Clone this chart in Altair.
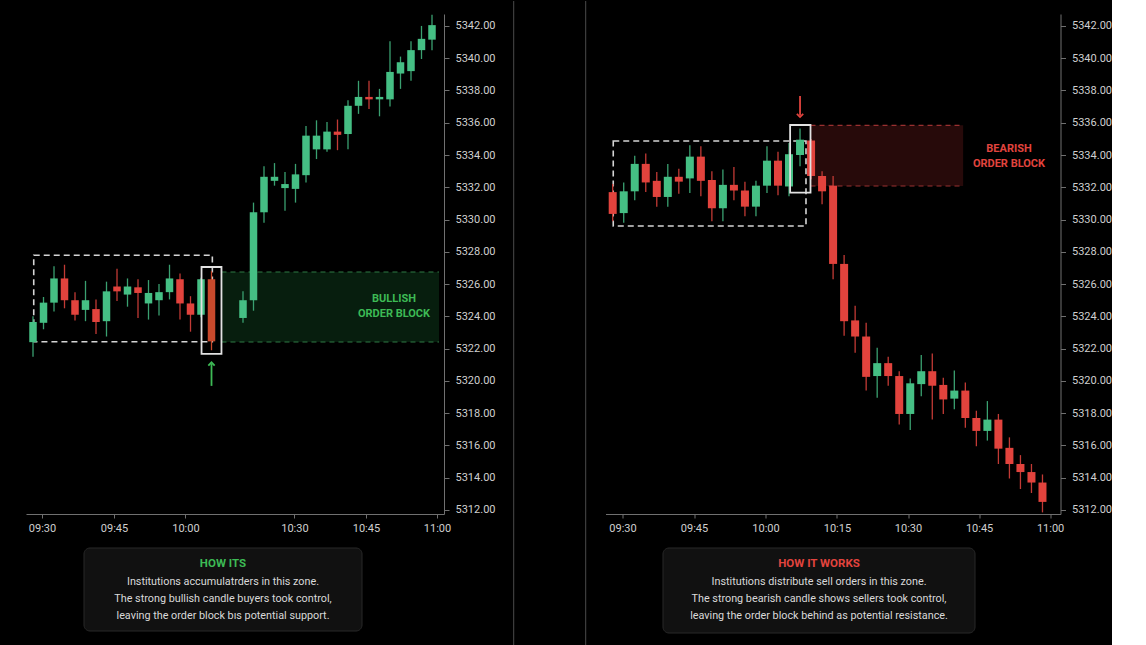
import altair as alt
import pandas as pd

FONT = "Roboto"
BG = "#000000"
GREEN = "#45bf84"
RED = "#e2433d"
OB_RED = "#c9492c"
GREEN_WICK = "#3aa070"
RED_WICK = "#c23a35"
AXIS_GRAY = "#707070"
LABEL_GRAY = "#cfcfcf"
SEP_GRAY = "#4a4a4a"

Y_DOMAIN = [5311.75, 5342.74]
Y_TICKS = [5312.0, 5314.0, 5316.0, 5318.0, 5320.0, 5322.0, 5324.0, 5326.0,
           5328.0, 5330.0, 5332.0, 5334.0, 5336.0, 5338.0, 5340.0, 5342.0]

# ---------------- Left panel: bullish order block ----------------
L_K = list(range(0, 18)) + list(range(20, 39))
L_OPEN = [5322.4, 5323.6, 5324.85, 5326.35, 5325.0, 5324.4, 5324.45, 5323.7, 5325.85,
          5325.35, 5325.8, 5324.8, 5325.0, 5325.5, 5326.3, 5324.8, 5324.1, 5326.3,
          5323.9, 5325.0, 5330.45, 5332.4, 5331.95, 5331.9, 5332.75, 5334.35, 5334.35,
          5335.45, 5335.3, 5337.05, 5337.6, 5337.45, 5337.45, 5339.05, 5339.2, 5340.5,
          5341.15]
L_HIGH = [5324.0, 5325.2, 5327.1, 5327.2, 5325.5, 5326.2, 5325.05, 5326.15, 5326.95,
          5326.35, 5326.3, 5326.25, 5326.0, 5327.2, 5326.65, 5325.25, 5326.4, 5326.8,
          5325.55, 5331.05, 5333.3, 5333.5, 5332.95, 5333.45, 5335.8, 5336.15, 5336.05,
          5336.2, 5337.4, 5338.6, 5338.6, 5338.1, 5341.05, 5340.1, 5341.05, 5342.0,
          5342.7]
L_LOW = [5321.5, 5323.2, 5324.3, 5324.5, 5323.75, 5323.7, 5322.9, 5322.75, 5324.95,
         5324.6, 5323.9, 5323.8, 5324.05, 5325.05, 5323.8, 5323.05, 5323.95, 5321.9,
         5323.6, 5324.35, 5329.8, 5332.1, 5330.55, 5331.05, 5332.3, 5333.75, 5334.2,
         5334.3, 5334.35, 5336.55, 5336.85, 5336.4, 5337.0, 5338.1, 5338.6, 5339.95,
         5340.5]
L_CLOSE = [5323.65, 5324.85, 5326.35, 5325.0, 5324.1, 5325.0, 5323.65, 5325.55, 5325.55,
           5325.85, 5325.45, 5325.45, 5325.5, 5326.35, 5324.8, 5324.1, 5326.3, 5322.45,
           5325.0, 5330.45, 5332.65, 5332.65, 5332.2, 5332.8, 5335.2, 5335.2, 5335.45,
           5335.25, 5337.05, 5337.6, 5337.45, 5337.6, 5339.15, 5339.75, 5340.5, 5341.2,
           5342.05]
L_OB = 17
L_XDOMAIN = [-0.667, 39.143]
L_TICK_POS = [0.857, 7.714, 14.52, 24.9, 31.71, 38.48]
L_TICK_LAB = ["09:30", "09:45", "10:00", "10:30", "10:45", "11:00"]
L_RANGE_BOX = [0.07, 17.08, 5322.43, 5327.79]
L_OB_BOX = [16.05, 17.95, 5321.67, 5327.06]
L_ZONE = [17.95, 38.67, 5322.41, 5326.75]
L_ZONE_LABEL = [34.38, 5325.08, 5324.15]
L_ARROW = [17, 5319.69, 5321.05]
L_TITLE = "HOW ITS"
L_LINES = ["Institutions accumulatrders in this zone.",
           "The strong bullish candle buyers took control,",
           "leaving the order block bıs potential support."]

# ---------------- Right panel: bearish order block ----------------
R_K = list(range(0, 40))
R_OPEN = [5331.7, 5330.4, 5331.75, 5333.45, 5332.4, 5331.4, 5332.65, 5332.55, 5333.9,
          5332.45, 5330.7, 5332.15, 5331.8, 5330.8, 5332.1, 5333.65, 5332.05, 5334.0,
          5334.9, 5332.7, 5332.1, 5327.25, 5323.75, 5322.75, 5320.3, 5321.1, 5320.3,
          5317.95, 5319.8, 5320.6, 5319.75, 5318.9, 5319.4, 5317.7, 5316.9, 5317.6,
          5315.85, 5314.85, 5314.35, 5313.7]
R_HIGH = [5332.2, 5332.3, 5333.95, 5334.1, 5332.95, 5333.45, 5333.15, 5334.6, 5334.55,
          5333.0, 5333.1, 5333.25, 5332.35, 5332.4, 5334.55, 5334.2, 5334.75, 5335.65,
          5335.0, 5333.0, 5332.7, 5327.8, 5324.65, 5323.6, 5322.05, 5321.5, 5320.6,
          5320.15, 5321.6, 5321.7, 5320.2, 5320.65, 5319.9, 5318.15, 5318.75, 5317.95,
          5316.5, 5315.4, 5314.85, 5314.2]
R_LOW = [5329.9, 5329.8, 5331.2, 5331.7, 5330.8, 5330.8, 5331.6, 5331.65, 5331.45,
         5329.9, 5329.9, 5331.2, 5330.2, 5330.2, 5331.65, 5331.5, 5331.45, 5333.3,
         5332.5, 5330.95, 5326.3, 5322.8, 5321.75, 5319.4, 5318.95, 5319.7, 5317.3,
         5316.95, 5319.05, 5317.6, 5317.95, 5318.25, 5317.1, 5315.95, 5316.3, 5314.85,
         5313.95, 5313.3, 5313.05, 5311.85]
R_CLOSE = [5330.35, 5331.75, 5333.45, 5332.3, 5331.4, 5332.65, 5332.35, 5333.9, 5332.4,
           5330.7, 5332.15, 5331.8, 5330.8, 5332.1, 5333.65, 5332.1, 5334.05, 5334.95,
           5332.7, 5331.75, 5327.25, 5323.7, 5322.75, 5320.25, 5321.1, 5320.3, 5317.95,
           5319.85, 5320.6, 5319.7, 5318.85, 5319.4, 5317.7, 5316.9, 5317.6, 5315.8,
           5314.85, 5314.35, 5313.7, 5312.5]
R_OB = 17
R_XDOMAIN = [-0.653, 40.635]
R_TICK_POS = [0.89, 7.38, 13.87, 20.35, 26.8, 33.25, 39.69]
R_TICK_LAB = ["09:30", "09:45", "10:00", "10:15", "10:30", "10:45", "11:00"]
R_RANGE_BOX = [0.05, 17.54, 5329.6, 5334.87]
R_OB_BOX = [16.1, 17.95, 5331.67, 5335.86]
R_ZONE = [17.95, 31.8, 5332.08, 5335.84]
R_ZONE_LABEL = [35.96, 5334.36, 5333.46]
R_ARROW = [17, 5337.66, 5336.45]
R_TITLE = "HOW IT WORKS"
R_LINES = ["Institutions distribute sell orders in this zone.",
           "The strong bearish candle shows sellers took control,",
           "leaving the order block behind as potential resistance."]


def label_expr(pos, lab):
    mids = [(a + b) / 2 for a, b in zip(pos[:-1], pos[1:])]
    expr = f"'{lab[-1]}'"
    for m, lb in reversed(list(zip(mids, lab[:-1]))):
        expr = f"datum.value < {m:.3f} ? '{lb}' : ({expr})"
    return expr


def panel(k, o, h, l, c, ob, ob_special, xdom, width, tpos, tlab, body_size,
          range_box, ob_box, zone, zone_fill, zone_opacity, zone_line, zone_label,
          label_color, arrow, arrow_up, title, lines, box_px, text_cx, separators):
    xsc = alt.Scale(domain=xdom, nice=False, zero=False, padding=0)
    ysc = alt.Scale(domain=Y_DOMAIN, nice=False, zero=False, padding=0)
    xax = alt.Axis(values=tpos, labelExpr=label_expr(tpos, tlab), title=None, grid=False,
                   domainColor=AXIS_GRAY, tickColor=AXIS_GRAY, tickSize=4,
                   labelColor=LABEL_GRAY, labelFont=FONT, labelFontSize=11,
                   labelPadding=4, labelFlush=False, labelOverlap=False)
    yax = alt.Axis(orient="right", values=Y_TICKS, format=".2f", title=None, grid=False,
                   domainColor=AXIS_GRAY, tickColor=AXIS_GRAY, tickSize=5,
                   labelColor=LABEL_GRAY, labelFont=FONT, labelFontSize=11,
                   labelPadding=6, labelOverlap=False)

    def X(f):
        return alt.X(f, type="quantitative", scale=xsc, axis=xax)

    def Y(f):
        return alt.Y(f, type="quantitative", scale=ysc, axis=yax)

    df = pd.DataFrame({"k": k, "open": o, "high": h, "low": l, "close": c})
    ob_expr = f"datum.k == {ob} ? 'ob' : " if ob_special else ""
    base = alt.Chart(df).transform_calculate(
        col=ob_expr + "(datum.close >= datum.open ? 'up' : 'down')")

    layers = []
    zdf = pd.DataFrame({"x0": [zone[0]], "x1": [zone[1]], "y0": [zone[2]], "y1": [zone[3]]})
    layers.append(alt.Chart(zdf).mark_rect(fill=zone_fill, opacity=zone_opacity).encode(
        x=X("x0"), x2="x1", y=Y("y0"), y2="y1"))
    zl = pd.DataFrame({"x0": [zone[0], zone[0]], "x1": [zone[1], zone[1]], "y": [zone[2], zone[3]]})
    layers.append(alt.Chart(zl).mark_rule(color=zone_line, strokeDash=[5, 4], strokeWidth=1.2).encode(
        x=X("x0"), x2="x1", y=Y("y")))
    rb = pd.DataFrame({"x0": [range_box[0]], "x1": [range_box[1]], "y0": [range_box[2]], "y1": [range_box[3]]})
    layers.append(alt.Chart(rb).mark_rect(filled=False, stroke="#d4d4d4", strokeWidth=1.6,
                                          strokeDash=[6, 4]).encode(
        x=X("x0"), x2="x1", y=Y("y0"), y2="y1"))
    layers.append(base.mark_rule(strokeWidth=1.3).encode(
        x=X("k"), y=Y("low"), y2="high",
        stroke=alt.Stroke("col:N", scale=alt.Scale(domain=["up", "down", "ob"],
                                                   range=[GREEN_WICK, RED_WICK, OB_RED]), legend=None)))
    layers.append(base.mark_bar(size=body_size).encode(
        x=X("k"), y=Y("open"), y2="close",
        fill=alt.Fill("col:N", scale=alt.Scale(domain=["up", "down", "ob"],
                                               range=[GREEN, RED, OB_RED]), legend=None)))
    obd = pd.DataFrame({"x0": [ob_box[0]], "x1": [ob_box[1]], "y0": [ob_box[2]], "y1": [ob_box[3]]})
    layers.append(alt.Chart(obd).mark_rect(filled=False, stroke="#e2e2e2", strokeWidth=1.8).encode(
        x=X("x0"), x2="x1", y=Y("y0"), y2="y1"))
    lab = pd.DataFrame({"x": [zone_label[0], zone_label[0]], "y": [zone_label[1], zone_label[2]],
                        "t": ["BULLISH" if arrow_up else "BEARISH", "ORDER BLOCK"]})
    layers.append(alt.Chart(lab).mark_text(font=FONT, fontSize=11, fontWeight="bold",
                                           color=label_color, align="center", baseline="middle").encode(
        x=X("x"), y=Y("y"), text="t:N"))
    ad = pd.DataFrame({"x": [arrow[0]], "y0": [arrow[1]], "y1": [arrow[2]]})
    layers.append(alt.Chart(ad).mark_rule(color=label_color, strokeWidth=1.8).encode(
        x=X("x"), y=Y("y0"), y2="y1"))
    head = "M-1,0.5L0,-0.5L1,0.5" if arrow_up else "M-1,-0.5L0,0.5L1,-0.5"
    hd = pd.DataFrame({"x": [arrow[0]], "y": [arrow[2]]})
    layers.append(alt.Chart(hd).mark_point(shape=head, size=40, filled=False, color=label_color,
                                           strokeWidth=1.8, opacity=1).encode(
        x=X("x"), y=Y("y")))
    # explanation box
    one = pd.DataFrame({"d": [0]})
    layers.append(alt.Chart(one).mark_rect(fill="#111111", stroke="#292929", strokeWidth=1,
                                           cornerRadius=6).encode(
        x=alt.value(box_px[0]), x2=alt.value(box_px[1]),
        y=alt.value(box_px[2]), y2=alt.value(box_px[3])))
    layers.append(alt.Chart(pd.DataFrame({"t": [title]})).mark_text(
        font=FONT, fontSize=11.5, fontWeight="bold", color=label_color,
        align="center", baseline="middle").encode(
        text="t:N", x=alt.value(text_cx), y=alt.value(box_px[2] + 16)))
    for i, line in enumerate(lines):
        layers.append(alt.Chart(pd.DataFrame({"t": [line]})).mark_text(
            font=FONT, fontSize=10.8, color="#d9d9d9", align="center", baseline="middle").encode(
            text="t:N", x=alt.value(text_cx), y=alt.value(box_px[2] + 34 + 17 * i)))
    for sx in separators:
        layers.append(alt.Chart(one).mark_rule(color=SEP_GRAY, strokeWidth=1).encode(
            x=alt.value(sx), y=alt.value(-13), y2=alt.value(632)))
    return alt.layer(*layers).properties(width=width, height=500)


left = panel(L_K, L_OPEN, L_HIGH, L_LOW, L_CLOSE, L_OB, True, L_XDOMAIN, 418,
             L_TICK_POS, L_TICK_LAB, 7.5, L_RANGE_BOX, L_OB_BOX, L_ZONE,
             "#1f8a42", 0.22, "#2f7a45", L_ZONE_LABEL, "#3dba55", L_ARROW, True,
             L_TITLE, L_LINES, [58, 336, 534, 617], 197, [487.7, 559.7])
right = panel(R_K, R_OPEN, R_HIGH, R_LOW, R_CLOSE, R_OB, False, R_XDOMAIN, 455,
              R_TICK_POS, R_TICK_LAB, 8, R_RANGE_BOX, R_OB_BOX, R_ZONE,
              "#7a1f1f", 0.32, "#9a3030", R_ZONE_LABEL, "#e2443e", R_ARROW, False,
              R_TITLE, R_LINES, [57.5, 369.5, 534, 619], 213.5, [])

chart = alt.hconcat(left, right, spacing=161.5, bounds="flush").properties(
    padding={"left": 25, "right": 0, "top": 0, "bottom": 0}
).configure(background=BG, font=FONT).configure_view(stroke="transparent")

chart.save("out.html", embed_options={"renderer": "svg", "actions": False})
